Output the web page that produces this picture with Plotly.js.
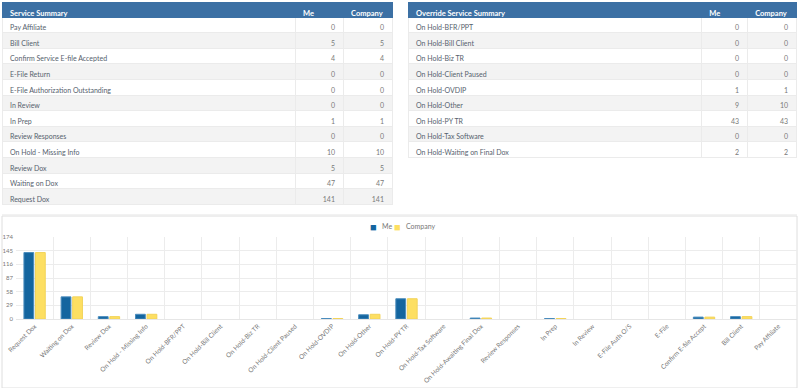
<!DOCTYPE html>
<html>
<head>
<meta charset="utf-8">
<script src="https://cdn.plot.ly/plotly-3.0.1.min.js"></script>
<style>
html,body{margin:0;padding:0;background:#fff;}
#chart{width:800px;height:388px;}
</style>
</head>
<body>
<div id="chart"></div>
<script>
// ---- Data ----
var serviceNames = ["Pay Affiliate","Bill Client","Confirm Service E-file Accepted","E-File Return","E-File Authorization Outstanding","In Review","In Prep","Review Responses","On Hold - Missing Info","Review Dox","Waiting on Dox","Request Dox"];
var serviceMe = [0,5,4,0,0,0,1,0,10,5,47,141];
var serviceCompany = [0,5,4,0,0,0,1,0,10,5,47,141];

var overrideNames = ["On Hold-BFR/PPT","On Hold-Bill Client","On Hold-Biz TR","On Hold-Client Paused","On Hold-OVDIP","On Hold-Other","On Hold-PY TR","On Hold-Tax Software","On Hold-Waiting on Final Dox"];
var overrideMe = [0,0,0,0,1,9,43,0,2];
var overrideCompany = [0,0,0,0,1,10,43,0,2];

var chartCategories = ["Request Dox","Waiting on Dox","Review Dox","On Hold - Missing Info","On Hold-BFR/PPT","On Hold-Bill Client","On Hold-Biz TR","On Hold-Client Paused","On Hold-OVDIP","On Hold-Other","On Hold-PY TR","On Hold-Tax Software","On Hold-Awaiting Final Dox","Review Responses","In Prep","In Review","E-File Auth O/S","E-File","Confirm E-file Accept","Bill Client","Pay Affiliate"];
var chartMe = [141,47,5,10,0,0,0,0,1,9,43,0,2,0,1,0,0,0,4,5,0];
var chartCompany = [141,47,5,10,0,0,0,0,1,10,43,0,2,0,1,0,0,0,4,5,0];
var yTicks = [0,29,58,87,116,145,174];
var seriesNames = ["Me","Company"];

// ---- Helpers ----
var W = 800, H = 388;
function px(x){ return x / W; }
function py(y){ return 1 - y / H; }

var headerBlue = '#3c70a4';
var fontFam = 'Lato, "Open Sans", sans-serif';
var colMe = '#14659f', colCo = '#fddf62';

function makeTable(title, names, me, comp, x0, x1, y0, y1, widths){
  var fills = names.map(function(_, i){ return i % 2 === 0 ? '#ffffff' : '#f3f3f3'; });
  var lines = names.map(function(_, i){ return i % 2 === 0 ? '#f3f3f3' : '#f3f3f3'; });
  return {
    type: 'table',
    domain: {x: [px(x0), px(x1)], y: [py(y1), py(y0)]},
    columnwidth: widths,
    header: {
      values: [title, seriesNames[0], seriesNames[1]],
      align: 'left',
      fill: {color: headerBlue},
      line: {color: headerBlue, width: 1},
      font: {family: fontFam, size: 7.5, color: '#ffffff', weight: 'bold'},
      height: 15
    },
    cells: {
      values: [names, me, comp],
      align: ['left','right','right'],
      fill: {color: [fills, fills, fills]},
      line: {color: '#ebebeb', width: 1},
      font: {family: fontFam, size: 7, color: ['#56616d','#7a7a7a','#7a7a7a']},
      height: 15.6
    }
  };
}

var tLeft = makeTable('Service Summary', serviceNames, serviceMe, serviceCompany, 2, 392, 2, 206, [293,48,49]);
var tRight = makeTable('Override Service Summary', overrideNames, overrideMe, overrideCompany, 408, 797, 2, 160, [294,46,49]);

function lineWidths(vals){ return vals.map(function(v){ return v > 0 ? 1 : 0; }); }

var barMe = {
  type: 'bar', name: seriesNames[0], x: chartCategories, y: chartMe,
  marker: {color: colMe, line: {color: '#4a8cbd', width: lineWidths(chartMe)}},
  showlegend: false, hoverinfo: 'x+y+name'
};
var barCo = {
  type: 'bar', name: seriesNames[1], x: chartCategories, y: chartCompany,
  marker: {color: colCo, line: {color: '#f2d35a', width: lineWidths(chartCompany)}},
  showlegend: false, hoverinfo: 'x+y+name'
};

function legendAnn(x, txt, color, size, anchor){
  return {xref: 'paper', yref: 'paper', x: px(x), y: py(226), xanchor: anchor, yanchor: 'middle',
          showarrow: false, text: txt, font: {size: size, color: color, family: fontFam}};
}

var layout = {
  width: W, height: H,
  margin: {l: 0, r: 0, t: 0, b: 0},
  paper_bgcolor: '#ffffff', plot_bgcolor: '#ffffff',
  font: {family: fontFam, color: '#777777'},
  barmode: 'group', bargap: 0.38, bargroupgap: 0.15,
  showlegend: false,
  annotations: [
    legendAnn(373.5, '■', colMe, 11, 'center'),
    legendAnn(380, seriesNames[0], '#777777', 7, 'left'),
    legendAnn(397.5, '■', colCo, 11, 'center'),
    legendAnn(404, seriesNames[1], '#777777', 7, 'left')
  ],
  xaxis: {
    domain: [px(16), px(797)], automargin: false,
    type: 'category', tickson: 'boundaries', ticks: '',
    showgrid: true, gridcolor: '#ececec', gridwidth: 1,
    showline: true, linecolor: '#e6e6e6',
    tickangle: -45, tickfont: {size: 6.5, color: '#777777'},
    fixedrange: true
  },
  yaxis: {
    domain: [py(319), py(237)], automargin: false,
    range: [0, 174], tickvals: yTicks, ticktext: yTicks.map(String),
    showgrid: true, gridcolor: '#ececec', zeroline: false,
    tickfont: {size: 6, color: '#777777'}, ticks: '', ticklabelstandoff: 2,
    fixedrange: true
  },
  shapes: [
    {type: 'rect', xref: 'paper', yref: 'paper', x0: px(2), x1: px(797), y0: 0, y1: py(216),
     line: {color: '#dedede', width: 1}, fillcolor: 'rgba(0,0,0,0)', layer: 'below'},
    {type: 'line', xref: 'paper', yref: 'paper', x0: px(2), x1: px(797), y0: py(215), y1: py(215),
     line: {color: '#eeeeee', width: 1.5}, layer: 'below'}
  ]
};

Plotly.newPlot('chart', [tLeft, tRight, barMe, barCo], layout, {displayModeBar: false});
</script>
</body>
</html>
